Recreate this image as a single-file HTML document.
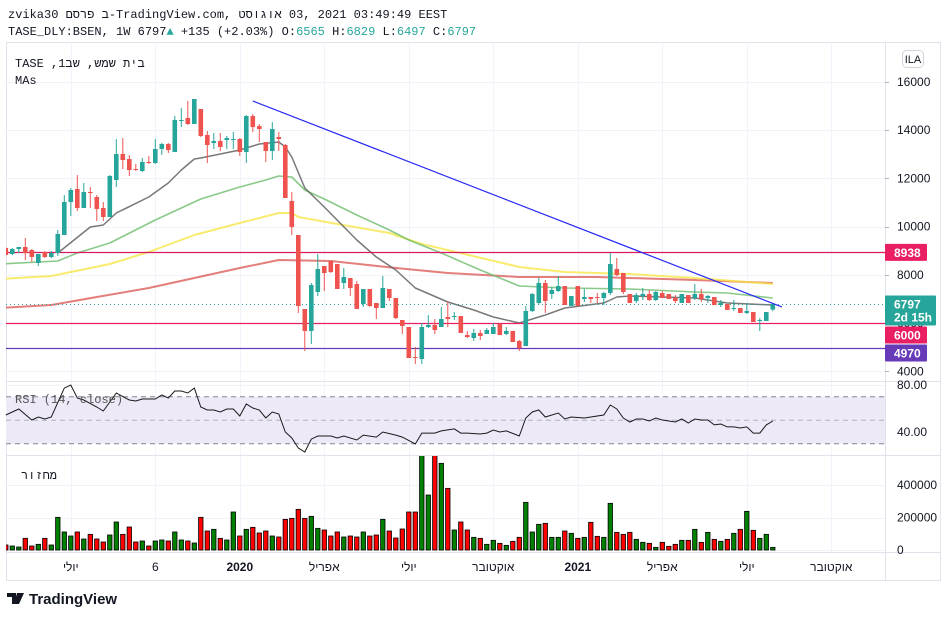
<!DOCTYPE html>
<html><head><meta charset="utf-8">
<style>
html,body{margin:0;padding:0;background:#fff;width:950px;height:617px;overflow:hidden}
svg{display:block}
.mono{font-family:"Liberation Mono","DejaVu Sans Mono",monospace}
.sans{font-family:"Liberation Sans","DejaVu Sans",sans-serif}
</style></head>
<body>
<svg id="chart" width="950" height="617" viewBox="0 0 950 617" xmlns="http://www.w3.org/2000/svg">
<defs>
<clipPath id="mainClip"><rect x="6" y="42" width="879" height="339"/></clipPath>
<clipPath id="volClip"><rect x="6" y="456" width="879" height="96"/></clipPath>
</defs>
<text x="8" y="18" class="mono" font-size="12" fill="#131722">zvika30 פרסם&#x200E; ב&#x200E;-TradingView.com,&#x200E;  אוגוסט&#x200E; 03, 2021 03:49:49 EEST</text>
<text x="8" y="35" class="mono" font-size="12" fill="#131722">TASE_DLY:BSEN, 1W 6797<tspan fill="#26a69a">▲</tspan> +135 (+2.03%) O:<tspan fill="#26a69a">6565</tspan> H:<tspan fill="#26a69a">6829</tspan> L:<tspan fill="#26a69a">6497</tspan> C:<tspan fill="#26a69a">6797</tspan></text>
<rect x="6.5" y="42.5" width="934" height="538" fill="none" stroke="#e0e3eb"/>
<g id="grid"></g>
<rect x="6" y="396.75" width="879" height="47" fill="#ede9f7"/>
<g id="rsiGuides"></g>
<g id="mas" clip-path="url(#mainClip)"></g>
<g id="levels"></g>
<g id="candles" clip-path="url(#mainClip)"></g>
<g id="trend" clip-path="url(#mainClip)"></g>
<g id="rsi"></g>
<g id="vol" clip-path="url(#volClip)"></g>
<line x1="885.5" y1="42" x2="885.5" y2="580" stroke="#e0e3eb"/>
<line x1="6" y1="381.5" x2="940" y2="381.5" stroke="#e0e3eb"/>
<line x1="6" y1="455.5" x2="940" y2="455.5" stroke="#e0e3eb"/>
<line x1="6" y1="552.5" x2="940" y2="552.5" stroke="#e0e3eb"/>
<g id="axes"></g>
<g id="tags"></g>
<text x="15" y="67" class="mono" font-size="12" fill="#131722">TASE ,1שב ,&#x200E;בית שמש</text>
<text x="15" y="84" class="mono" font-size="12" fill="#131722">MAs</text>
<text x="15" y="403" class="mono" font-size="12" fill="#555">RSI (14, close)</text>
<text x="57" y="479" class="mono" font-size="12" fill="#131722" text-anchor="end">מחזור</text>
<rect x="902.5" y="50.5" width="21" height="17" rx="4" fill="#fff" stroke="#d1d4dc"/>
<text x="913" y="63" class="sans" font-size="11" fill="#131722" text-anchor="middle">ILA</text>
<g>
<path d="M7 593h9v11h-4v-7h-5z M17 593h3l-4 11h-2z M20 593h4l-5 11h-3z" fill="#131722"/>
<text x="29" y="604" class="sans" font-size="15" font-weight="bold" fill="#131722">TradingView</text>
</g>
</svg>
<script>
// ---- data ----
const opens=[9118,8869,9076,9159,9035,8496,8952,8745,8910,9657,11025,11564,10776,11439,11232,10776,10403,11937,13015,12808,12393,12310,12683,12642,13222,13429,13098,14383,14507,14259,14881,13803,13471,13554,13595,13595,13637,13098,14590,14176,13512,13139,13720,13388,11066,9657,6589,5677,7294,8371,8579,8454,7667,7874,7625,6796,7418,6838,6630,7418,7045,6133,5842,4598,4515,5842,5925,5842,6257,6257,6298,5511,5386,5594,5552,5552,5967,5552,5677,5262,5054,6506,6838,7667,7211,7335,7542,6713,7542,7003,7086,7086,7045,7252,8247,8081,7211,6920,7128,7211,6962,7252,7211,7045,6838,7169,7045,7211,7045,7086,6755,6796,6589,6630,6423,6464,6091,6091,6565];
const highs=[9160,9118,9159,9532,9076,8869,8990,8990,9864,11315,11605,12144,11813,11647,11315,11025,12144,13637,13678,12973,12600,12850,12932,13637,13471,13471,14590,14922,15212,15295,14881,13968,13885,13885,13761,13927,13678,14632,14673,14259,13512,14342,13927,13430,11440,9657,6589,7667,8869,8371,8579,8454,8288,7874,7750,7418,7418,6838,7957,7418,7045,6133,5842,5013,6008,6340,6174,6672,6879,6464,6298,5677,5759,5718,5801,6008,6008,5842,5677,5303,6713,7250,7874,7791,7501,7957,7542,7128,7542,7418,7086,7252,7294,8910,8703,8081,7211,7252,7459,7376,7335,7335,7211,7169,7211,7169,7625,7418,7169,7086,6962,6796,6962,6630,6838,6464,6216,6464,6829];
const lows=[8827,8827,8910,8620,8537,8371,8703,8703,8786,9657,10444,10652,10776,10776,10237,10237,10403,11647,12393,12103,12310,12270,12600,12600,12973,13056,13098,14134,14217,14259,13720,12642,13222,13139,13222,13222,12932,12642,13927,13512,12683,12766,13139,11191,9657,6423,4847,5137,7128,7335,8081,7418,7418,7128,6589,6672,6672,6174,6630,6920,6174,5552,4557,4308,4308,5801,5552,5842,5842,6133,5594,5386,5262,5303,5552,5552,5511,5511,5220,4847,5054,6460,6755,6423,7003,7294,6755,6713,6713,6879,6838,6838,6755,7169,7957,7211,6838,6838,6962,6920,6920,7045,7003,6838,6838,6838,6962,6879,6838,6755,6672,6547,6506,6423,6380,6050,5677,6091,6497];
const closes=[8827,9076,9159,8910,8745,8869,8745,8910,9698,11025,11522,10776,11439,11398,10735,10403,12103,13015,12766,12352,12352,12683,12642,13222,13429,13181,14425,14425,14259,15295,13761,13388,13554,13305,13678,13637,13098,14590,14134,14051,13139,14051,13637,11191,9988,6713,5677,7584,8247,8081,8123,7418,7916,7459,6589,7418,6713,6630,7459,7045,6216,5884,4557,4557,5842,5925,5718,6174,6174,6298,5594,5428,5594,5469,5718,5842,5511,5677,5220,4971,6506,7211,7667,6920,7376,7542,6755,7128,6713,7086,7003,7045,7252,8454,7998,7294,6838,7169,7211,6962,7294,7045,7003,6920,7211,6838,7211,7003,7128,6755,6838,6547,6630,6423,6506,6050,6133,6464,6797];
const volumes=[30800,24600,18500,71800,24600,34900,71800,30800,201000,110800,86100,110800,67700,96400,67700,49200,92300,172300,96400,141500,49200,55400,24600,55400,61500,55400,110800,61500,55400,43100,201000,116900,127200,71800,61500,233800,86100,127200,139500,104600,116900,86100,80000,188700,194800,250200,194800,207200,133300,123100,86100,110800,80000,86100,80000,110800,86100,92300,188700,116900,73800,129200,233800,233800,620000,338400,620000,533300,379400,123100,172300,123100,78000,71800,34900,59500,41000,28700,53300,78000,293300,110800,157900,164100,78000,78000,116900,102600,71800,78000,170200,84100,78000,287100,108700,96400,108700,65600,47200,41000,16400,47200,22600,34900,59500,59500,127200,47200,108700,65600,53300,65600,102600,127200,237900,121000,71800,96400,16400];
const rsiIdx=[0,2,4,5,6,7,9,10,11,12,14,15,17,19,20,21,23,24,25,26,27,28,29,30,31,32,33,34,35,36,37,38,39,40,41,42,43,44,45,46,47,48,50,51,52,54,55,57,58,60,61,63,64,66,67,69,70,71,73,74,75,76,77,79,80,81,82,83,85,86,87,89,90,92,93,94,95,96,97,98,99,100,101,103,104,105,106,107,108,109,110,111,112,113,114,115,116,117,118];
const rsiVal=[54.5,59.6,50.2,52.8,51.1,52.8,77.4,80,68.9,67.2,61.3,57.9,73.2,67.2,66.4,68.1,68.1,71.5,68.9,74.9,74.9,73.2,77.4,61.3,58.7,58.7,57,59.6,59.6,53.6,63.8,60.4,58.7,51.9,57,55.3,40,34.9,26.4,23,34,36.6,36.6,34.9,36.6,33.2,37.4,35.7,40,37.4,35.7,29.8,39.1,39.1,40.9,42.6,39.1,39.1,38.3,39.1,41.7,40,40.9,36.6,51.9,57,58.7,52.8,56.2,51.1,52.8,51.9,52.8,54.5,63,59.6,51.9,48.5,51.1,51.1,49.4,51.9,50.2,48.5,51.1,47.7,51.1,50.2,50.2,46,46.8,44.3,44.3,43.4,44.3,39.1,39.1,46,49.4];
const ma1Idx=[8,13,15,17,22,25,27,29,30,36,39,42,43,44,46,49,54,57,60,63,68,72,75,79,83,86,92,94,96,101,106,111,118];
const ma1Val=[8910,9988,10070,10570,11232,11813,12352,12808,12850,13181,13429,13512,13305,12890,11605,10818,9450,8745,8205,7459,6879,6547,6257,6008,6340,6630,6838,7086,7128,7086,7045,6838,6755];
const ma2Idx=[-1,8,11,16,23,30,36,40,42,44,46,49,54,59,62,67,73,79,86,96,106,111,118];
const ma2Val=[8454,8579,8910,9325,10278,11149,11647,11937,12103,12061,11522,11149,10485,9864,9450,8910,8205,7542,7459,7418,7294,7252,7045];
const ma3Idx=[-1,7,16,22,29,36,42,44,45,51,59,64,79,86,96,106,118];
const ma3Val=[7833,7957,8454,8952,9657,10154,10570,10570,10403,10112,9739,9283,8330,8122,8040,7874,7625];
const ma4Idx=[-1,7,14,22,29,36,42,50,60,68,79,91,106,118];
const ma4Val=[6630,6755,7086,7459,7874,8288,8620,8579,8288,8081,7916,7916,7791,7667];
const trendIdx=[38,119.4];
const trendVal=[15212,6672];
const levelVals=[8938,6000,4970];
const priceTicks=[16000,14000,12000,10000,8000,6000,4000];
const rsiTicks=[80,40];
const rsiGuideVals=[70,50,30];
const volTicks=[400000,200000,0];
const timeLabels=["יולי","6","2020","אפריל","יולי","אוקטובר","2021","אפריל","יולי","אוקטובר"];
const timeIdx=[10,23,36,49,62,75,88,101,114,127];
const lastPrice=6797;

// ---- scales ----
const NS="http://www.w3.org/2000/svg";
const xOf=i=>5.8+6.5*i;
const yP=p=>82+(16000-p)*0.02412;
const yR=v=>385+(80-v)*1.175;
const yV=v=>550-v*0.0001625;
function mk(tag,attrs,parent){const e=document.createElementNS(NS,tag);for(const k in attrs)e.setAttribute(k,attrs[k]);parent.appendChild(e);return e;}
const $=id=>document.getElementById(id);

// grid
const grid=$('grid');
timeIdx.forEach((t,k)=>{const x=Math.round(xOf(t))+0.5;
 const l=mk('line',{x1:x,y1:42,x2:x,y2:552,stroke:'#f0f3fa'},grid);
 
 });
priceTicks.forEach(p=>{const y=Math.round(yP(p))+0.5;
 const l=mk('line',{x1:6,y1:y,x2:885,y2:y,stroke:'#f0f3fa'},grid);
 
 });
rsiTicks.forEach(v=>{const y=Math.round(yR(v))+0.5;
 const l=mk('line',{x1:6,y1:y,x2:885,y2:y,stroke:'#f0f3fa'},grid);
 
 });
volTicks.forEach(v=>{const y=Math.round(yV(v))+0.5;
 const l=mk('line',{x1:6,y1:y,x2:885,y2:y,stroke:'#f0f3fa'},grid);
 
 });

// rsi guides
rsiGuideVals.forEach(v=>{const y=yR(v);
 const l=mk('line',{x1:6,y1:y,x2:885,y2:y,stroke:'#787b86','stroke-dasharray':'5,4','stroke-width':1,opacity:v===50?0.5:0.9},$('rsiGuides'));
 
 });

// moving averages
function poly(idx,val,color,name,w,op){
 const pts=idx.map((t,k)=>xOf(t).toFixed(1)+','+yP(val[k]).toFixed(1)).join(' ');
 const p=mk('polyline',{points:pts,fill:'none',stroke:color,'stroke-width':w,opacity:op,'stroke-linejoin':'round'},$('mas'));
 
 }
poly(ma4Idx,ma4Val,'#d9534f','ma-200-line',2,0.75);
poly(ma3Idx,ma3Val,'#f7e64a','ma-100-line',2,0.8);
poly(ma2Idx,ma2Val,'#6dbb6a','ma-50-line',1.6,0.8);
poly(ma1Idx,ma1Val,'#606060','ma-20-line',1.5,0.85);

// horizontal levels
const levelColors=['#d81b60','#e91e63','#673ab7'];
levelVals.forEach((v,k)=>{const y=Math.round(yP(v))+0.5;
 const l=mk('line',{x1:6,y1:y,x2:885,y2:y,stroke:levelColors[k],'stroke-width':1.2},$('levels'));
 
 });
const ly=Math.round(yP(lastPrice))+0.5;
const ll=mk('line',{x1:6,y1:ly,x2:885,y2:ly,stroke:'#26a69a','stroke-dasharray':'1,3'},$('levels'));



// candles
const cg=$('candles');
opens.forEach((o,i)=>{const c=closes[i],up=c>=o,col=up?'#26a69a':'#ef5350',x=xOf(i);
 const w=mk('line',{x1:x,y1:yP(highs[i]),x2:x,y2:yP(lows[i]),stroke:col,'stroke-width':1},cg);
 
 
 const top=yP(Math.max(o,c)),bot=yP(Math.min(o,c));
 const b=mk('rect',{x:x-2.3,y:top,width:4.6,height:Math.max(1,bot-top),fill:col},cg);
 
 });

// trend line
const tl=mk('line',{x1:xOf(trendIdx[0]),y1:yP(trendVal[0]),x2:xOf(trendIdx[1]),y2:yP(trendVal[1]),stroke:'#2727f5','stroke-width':1.2},$('trend'));



// rsi line
const rp=mk('polyline',{points:rsiIdx.map((t,k)=>xOf(t).toFixed(1)+','+yR(rsiVal[k]).toFixed(1)).join(' '),fill:'none',stroke:'#1a1a1a','stroke-width':1},$('rsi'));



// volume
const vg=$('vol');
volumes.forEach((v,i)=>{const up=closes[i]>=opens[i],x=xOf(i),y=yV(v);
 const r=mk('rect',{x:x-2.2,y:y,width:4.4,height:550-y,fill:up?'#008000':'#ff0000',stroke:'#000','stroke-width':0.8},vg);
 
 });

// axes labels
const ax=$('axes');
priceTicks.forEach(p=>{
 const t=mk('text',{x:897,y:yP(p)+4,'font-size':12,fill:'#131722',class:'sans'},ax);t.textContent=p;
 
 
 const tk=mk('line',{x1:885,y1:Math.round(yP(p))+0.5,x2:889,y2:Math.round(yP(p))+0.5,stroke:'#b2b5be'},ax);
 
 });
rsiTicks.forEach(v=>{
 const t=mk('text',{x:897,y:yR(v)+4,'font-size':12,fill:'#131722',class:'sans'},ax);t.textContent=v.toFixed(2);
 
 });
volTicks.forEach(v=>{
 const t=mk('text',{x:897,y:yV(v)+4,'font-size':12,fill:'#131722',class:'sans'},ax);t.textContent=v;
 
 });
timeIdx.forEach((ti,k)=>{
 const bold=/^\d{4}$/.test(timeLabels[k]);
 const t=mk('text',{x:xOf(ti),y:571,'font-size':12,fill:'#131722','text-anchor':'middle',class:'sans','font-weight':bold?'bold':'normal'},ax);
 t.textContent=timeLabels[k];
 
 });

// price tags (stacked top-down to avoid overlap)
const tg=$('tags');
const tagSpecs=[
 {v:levelVals[0],c:'#e91e63',n:'level-tag-8938',e:null},
 {v:lastPrice,c:'#26a69a',n:'last-price-tag',e:'2d 15h'},
 {v:levelVals[1],c:'#e91e63',n:'level-tag-6000',e:null},
 {v:levelVals[2],c:'#673ab7',n:'level-tag-4970',e:null}];
let prevBottom=0;
tagSpecs.forEach(s=>{
 const h=s.e?30:17;
 let yy=yP(s.v)-8.5;
 if(yy<prevBottom+1)yy=prevBottom+1;
 prevBottom=yy+h;
 const r=mk('rect',{x:885,y:yy,width:s.e?51:42,height:h,rx:1,fill:s.c},tg);
 
 
 const t=mk('text',{x:894,y:yy+13,'font-size':12,'font-weight':'bold',fill:'#fff',class:'sans'},tg);t.textContent=s.v;
 
 
 if(s.e){const t2=mk('text',{x:894,y:yy+26,'font-size':12,'font-weight':'bold',fill:'#fff',class:'sans'},tg);t2.textContent=s.e;
 
 }
});
</script>
</body></html>
